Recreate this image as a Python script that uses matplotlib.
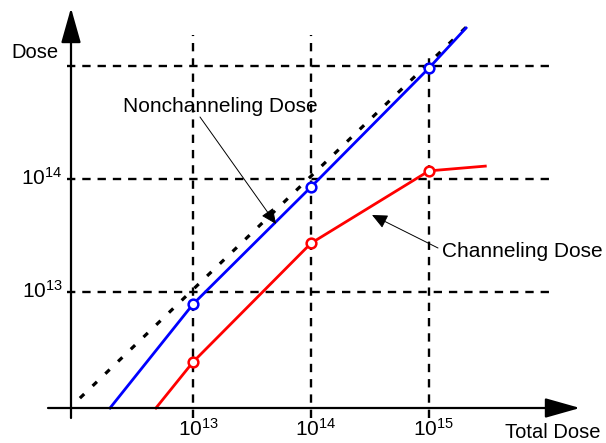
import matplotlib
matplotlib.use('Agg')
import matplotlib.pyplot as plt
from matplotlib.transforms import ScaledTranslation

plt.rcParams['font.family'] = ['Liberation Sans', 'DejaVu Sans']
plt.rcParams['mathtext.fontset'] = 'custom'
plt.rcParams['mathtext.rm'] = 'Liberation Sans'
plt.rcParams['mathtext.it'] = 'Liberation Sans:italic'
plt.rcParams['mathtext.bf'] = 'Liberation Sans:bold'
plt.rcParams['lines.scale_dashes'] = False

# ---------------- data ----------------
grid_x = [1e13, 1e14, 1e15]
grid_y = [1e13, 1e14, 1e15]
xtick_labels = [r'$10^{13}$', r'$10^{14}$', r'$10^{15}$']
ytick_vals = [1e13, 1e14]
ytick_labels = [r'$10^{13}$', r'$10^{14}$']

ideal_x = [1.1e12, 2.06e15]
ideal_y = [1.15e12, 2.2e15]

nonchan_x = [1.98e12, 1e13, 1e14, 1e15, 2.06e15]
nonchan_y = [9.4e11, 7.8e12, 8.5e13, 9.6e14, 2.17e15]

chan_x = [4.85e12, 1e13, 1e14, 1e15, 3.0e15]
chan_y = [9.4e11, 2.4e12, 2.7e13, 1.18e14, 1.3e14]

# ---------------- figure ----------------
W, H = 606, 443
fig = plt.figure(figsize=(W / 100, H / 100), dpi=100)
ax = fig.add_axes([71 / W, 35 / H, 509 / W, 400 / H])
ax.set_xscale('log')
ax.set_yscale('log')
ax.set_xlim(10 ** 11.966, 10 ** 16.2797)
ax.set_ylim(10 ** 11.9734, 10 ** 15.5132)
for s in ax.spines.values():
    s.set_visible(False)
ax.minorticks_off()
ax.set_xticks(grid_x)
ax.set_xticklabels(xtick_labels)
ax.set_yticks(ytick_vals)
ax.set_yticklabels(ytick_labels)
ax.tick_params(axis='both', length=0, labelsize=15)
ax.tick_params(axis='x', pad=7)
ax.tick_params(axis='y', pad=6)
for lab in ax.get_xticklabels():
    lab.set_transform(lab.get_transform() + ScaledTranslation(5 / 100, 0, fig.dpi_scale_trans))
for lab in ax.get_yticklabels():
    lab.set_transform(lab.get_transform() + ScaledTranslation(0, 3 / 100, fig.dpi_scale_trans))
ax.patch.set_visible(False)

grid_dash = (6.0, 5.0)
grid_lw = 1.7
for gy in grid_y:
    ax.plot([10 ** 11.932, 10 ** 16.025], [gy, gy], color='black', lw=grid_lw,
            dashes=grid_dash, clip_on=False, zorder=1)
vtops = [10 ** 15.274, 10 ** 15.274, 10 ** 15.124]
for gx, top in zip(grid_x, vtops):
    ax.plot([gx, gx], [10 ** 11.885, top], color='black', lw=grid_lw,
            dashes=grid_dash, clip_on=False, zorder=1)

# dotted ideal line
ax.plot(ideal_x, ideal_y, color='black', lw=2.3, dashes=(4.3, 8.4),
        clip_on=False, zorder=2)
# nonchanneling
ax.plot(nonchan_x, nonchan_y, color='#0000ff', lw=2.0, marker='o', markevery=[1, 2, 3],
        ms=7, mew=1.8, mfc='white', mec='#0000ff', clip_on=False, zorder=3)
# channeling
ax.plot(chan_x, chan_y, color='#ff0000', lw=2.0, marker='o', markevery=[1, 2, 3],
        ms=7, mew=1.8, mfc='white', mec='#ff0000', clip_on=False, zorder=3)

# axes with arrows
axis_style = '-|>,head_length=21.6,head_width=6.1'
ax.annotate('', xy=(580, H - 408), xytext=(48, H - 408), xycoords='figure pixels',
            textcoords='figure pixels',
            arrowprops=dict(arrowstyle=axis_style, mutation_scale=1, lw=1.6,
                            color='black', shrinkA=0, shrinkB=0))
ax.annotate('', xy=(71, H - 8), xytext=(71, H - 418), xycoords='figure pixels',
            textcoords='figure pixels',
            arrowprops=dict(arrowstyle=axis_style, mutation_scale=1, lw=1.6,
                            color='black', shrinkA=0, shrinkB=0))

# labels
fig.text(11 / W, (H - 58) / H, 'Dose', fontsize=14.5, ha='left', va='baseline')
fig.text(505 / W, (H - 438) / H, 'Total Dose', fontsize=14.5, ha='left', va='baseline')
fig.text(123 / W, (H - 112) / H, 'Nonchanneling Dose', fontsize=15, ha='left', va='baseline')
fig.text(442 / W, (H - 257) / H, 'Channeling Dose', fontsize=15, ha='left', va='baseline')

ann_style = '-|>,head_length=9.4,head_width=4.3'
ax.annotate('', xy=(276, H - 224), xytext=(200, H - 117), xycoords='figure pixels',
            textcoords='figure pixels',
            arrowprops=dict(arrowstyle=ann_style, mutation_scale=1, lw=0.7,
                            color='black', shrinkA=0, shrinkB=0))
ax.annotate('', xy=(372, H - 215), xytext=(438, H - 248), xycoords='figure pixels',
            textcoords='figure pixels',
            arrowprops=dict(arrowstyle=ann_style, mutation_scale=1, lw=0.7,
                            color='black', shrinkA=0, shrinkB=0))

fig.savefig('out.png', dpi=100)
